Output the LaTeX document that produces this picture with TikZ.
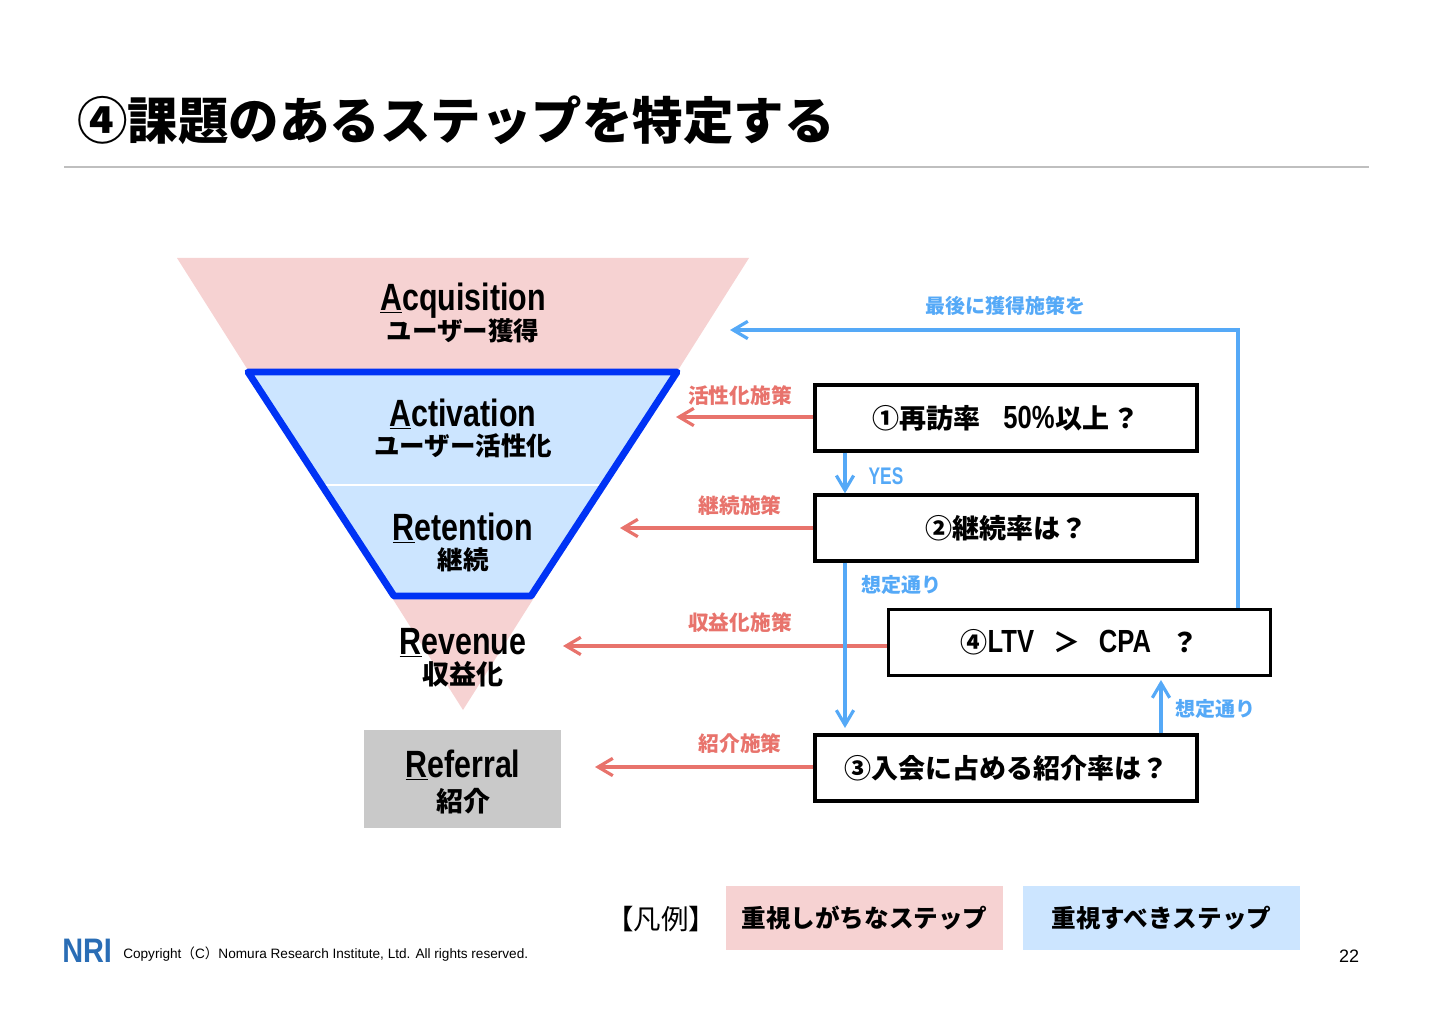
\documentclass[tikz,border=0pt]{standalone}
\usepackage{fontspec}
\usetikzlibrary{arrows.meta}
\setmainfont{Liberation Sans}
\newfontfamily\cjk{Noto Sans CJK JP}
\newfontfamily\narrowlat[FakeStretch=0.80]{Liberation Sans}
\newfontfamily\narrowlight[FakeStretch=0.72]{Liberation Sans}
\newfontfamily\logofont[FakeStretch=0.85]{Liberation Sans}
\newcommand{\px}[1]{\fontsize{\fpeval{#1*0.75}pt}{\fpeval{#1*0.85}pt}\selectfont}
\definecolor{funpink}{HTML}{F6D2D2}
\definecolor{funblue}{HTML}{CCE5FF}
\definecolor{edgeblue}{HTML}{0033F5}
\definecolor{redline}{HTML}{E8736C}
\definecolor{blueline}{HTML}{55A9F7}
\definecolor{greybox}{HTML}{C9C9C9}
\definecolor{logoblue}{HTML}{2A6DB5}
\tikzset{
  stagemain/.style={inner sep=0pt,font=\narrowlat\bfseries\px{38},anchor=center},
  stagesub/.style={inner sep=0pt,font=\cjk\bfseries\px{25.5},anchor=center},
  qbox/.style={draw=black,line width=2.5pt,fill=white,inner sep=0pt,font=\cjk\bfseries\px{27},minimum width=286.5pt,minimum height=49.5pt},
  redlabel/.style={inner sep=0pt,font=\cjk\bfseries\px{20.7},text=redline},
  bluelabel/.style={inner sep=0pt,font=\cjk\bfseries\px{20},text=blueline},
  redarrow/.style={draw=redline,line width=2.4pt,-{Straight Barb[length=11pt,width=13pt]}},
  bluearrow/.style={draw=blueline,line width=2.4pt,-{Straight Barb[length=11pt,width=13pt]}},
  legendbox/.style={inner sep=0pt,font=\cjk\bfseries\px{24.6}}
}
\newcommand{\boxlat}[1]{{\narrowlat\bfseries\px{32}#1}}
\begin{document}
\begin{tikzpicture}[x=0.75pt,y=-0.75pt]
\useasboundingbox (0,0) rectangle (1440,1012);
% title
\node[anchor=west,inner sep=0pt,font=\cjk\bfseries\px{50.5}] (title) at (77,120) {④課題のあるステップを特定する};
\coordinate (rulea) at (64,167);
\coordinate (ruleb) at (1369,167);
\draw[color=black!25,line width=1pt] (rulea) -- (ruleb);
% funnel
\fill[funpink] (177,258) -- (749,258) -- (463,710) -- cycle;
\fill[funblue] (248,372) -- (677,372) -- (531,596) -- (394,596) -- cycle;
\draw[white,line width=2pt] (322,485) -- (604,485);
\draw[edgeblue,line width=5.2pt,line join=round] (248,372) -- (677,372) -- (531,596) -- (394,596) -- cycle;
\node[stagemain] (acq) at (463,301) {\underline{A}cquisition};
\node[stagesub] (acqj) at (463,331) {ユーザー獲得};
\node[stagemain] (act) at (463,414) {\underline{A}ctivation};
\node[stagesub] (actj) at (463,446) {ユーザー活性化};
\node[stagemain] (ret) at (463,528) {\underline{R}etention};
\node[stagesub] (retj) at (463,560) {継続};
\node[stagemain] (rev) at (463,643) {\underline{R}evenue};
\node[stagesub,font=\cjk\bfseries\px{27}] (revj) at (463,674) {収益化};
% referral
\fill[greybox] (364,730) rectangle (561,828);
\node[stagemain] (ref) at (463,765) {\underline{R}eferral};
\node[stagesub,font=\cjk\bfseries\px{27}] (refj) at (463,801) {紹介};
% question boxes
\node[qbox] (b1) at (1006,418) {①再訪率\hspace{0.85em}\boxlat{50\%}\hspace{0.05em}以上\hspace{0.1em}？};
\node[qbox] (b2) at (1006,528) {②継続率は？};
\node[qbox] (b4) at (1079.5,642.5) {④\boxlat{LTV}\hspace{0.7em}＞\hspace{0.7em}\boxlat{CPA}\hspace{0.75em}？};
\node[qbox] (b3) at (1006,768) {③入会に占める紹介率は？};
% arrow targets
\coordinate (s1) at ([yshift=0.75pt]b1.west);
\coordinate (s4) at ([yshift=-2.6pt]b4.west);
\coordinate (s3) at ([yshift=0.75pt]b3.west);
\coordinate (t1) at (676,0);
\coordinate (t2) at (620,0);
\coordinate (t4) at (563,0);
\coordinate (t3) at (595,0);
\coordinate (xa) at (845,0);
\coordinate (xb) at (1161,0);
\coordinate (xc) at (1238,0);
\coordinate (top) at (730,330);
\coordinate (b3top) at (845,728);
\coordinate (b4bot) at (1161,680);
% red arrows
\draw[redarrow] (s1) -- (t1 |- s1);
\draw[redarrow] (b2.west) -- (t2 |- b2.west);
\draw[redarrow] (s4) -- (t4 |- s4);
\draw[redarrow] (s3) -- (t3 |- s3);
% blue arrows
\draw[bluearrow] (xa |- b1.south) -- (xa |- b2.north);
\draw[bluearrow] (xa |- b2.south) -- (b3top);
\draw[bluearrow] (xb |- b3.north) -- (b4bot);
\draw[bluearrow] (xc |- b4.north) -- (xc |- top) -- (top);
% labels
\node[redlabel] (l1) at (740,396) {活性化施策};
\node[redlabel] (l2) at (740,506) {継続施策};
\node[redlabel] (l3) at (740,623) {収益化施策};
\node[redlabel] (l4) at (740,744) {紹介施策};
\node[bluelabel] (l5) at (1005,306) {最後に獲得施策を};
\node[bluelabel,font=\narrowlight\bfseries\px{24}] (l6) at (886,476) {YES};
\node[bluelabel] (l7) at (901,585) {想定通り};
\node[bluelabel] (l8) at (1215,709) {想定通り};
% legend
\node[inner sep=0pt,font=\cjk\px{27.5}] (lg) at (661,919) {【凡例】};
\node[legendbox,fill=funpink,minimum width=208pt,minimum height=48.5pt] (lg1) at (864.5,918) {重視しがちなステップ};
\node[legendbox,fill=funblue,minimum width=208pt,minimum height=48.5pt] (lg2) at (1161.5,918) {重視すべきステップ};
% footer
\node[anchor=west,inner sep=0pt,font=\logofont\bfseries\px{34},text=logoblue] (logo) at (62,951) {NRI};
\node[anchor=west,inner sep=0pt,font=\px{13.6}] (copy) at (123,954) {Copyright{\cjk（}C{\cjk）}Nomura Research Institute, Ltd. All rights reserved.};
\node[inner sep=0pt,font=\px{18}] (pg) at (1349,956) {22};
\end{tikzpicture}
\end{document}
